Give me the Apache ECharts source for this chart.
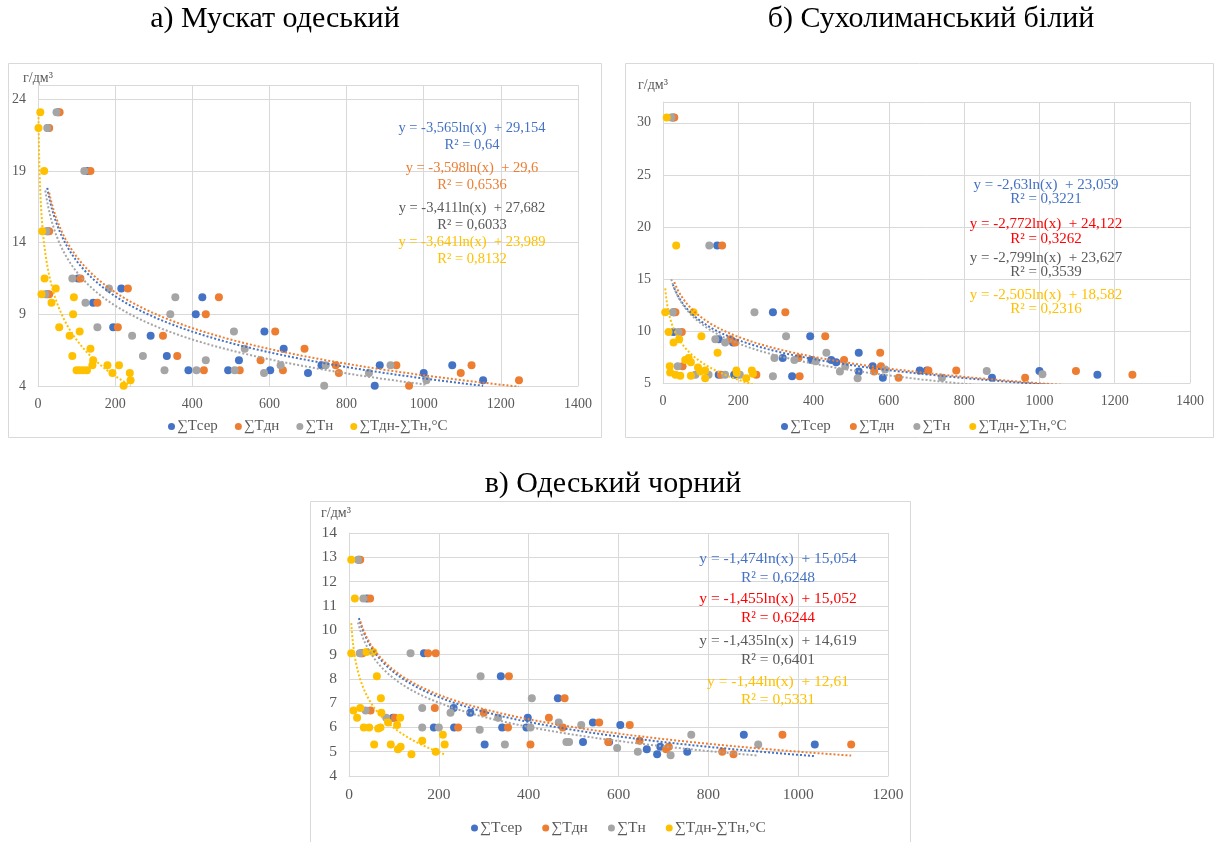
<!DOCTYPE html>
<html>
<head>
<meta charset="utf-8">
<script src="https://cdn.jsdelivr.net/npm/echarts@6/dist/echarts.min.js"></script>
<style>
html, body { margin: 0; padding: 0; background: #fff; }
#chart { width: 1218px; height: 842px; }
</style>
</head>
<body>
<div id="chart"></div>
<script>
// назви серій та кольори
const seriesNames = ['∑Tсер', '∑Tдн', '∑Tн', '∑Tдн-∑Tн,°C'];
const seriesColors = ['#4472C4', '#ED7D31', '#A5A5A5', '#FFC000'];

// а) Мускат одеський
const aTser = [[52,23.1],[26,22],[128,19],[25,14.8],[104,11.5],[216,10.8],[24,10.4],[426,10.2],[143,9.8],[409,9],[195,8.1],[587,7.8],[292,7.5],[637,6.6],[334,6.1],[521,5.8],[390,5.1],[493,5.1],[602,5.1],[700,4.9],[735,5.45],[886,5.45],[873,4.02],[1000,4.9],[1074,5.45],[1154,4.4]];
const aTdn = [[56,23.1],[29,22],[136,19],[29,14.8],[110,11.5],[233,10.8],[29,10.4],[469,10.2],[154,9.8],[435,9],[207,8.1],[615,7.8],[324,7.5],[691,6.6],[361,6.1],[577,5.8],[430,5.1],[523,5.1],[635,5.1],[780,4.9],[772,5.45],[929,5.45],[962,4.02],[1096,4.9],[1124,5.45],[1247,4.4]];
const aTn = [[48,23.1],[24,22],[120,19],[22,14.8],[89,11.5],[184,10.8],[19,10.4],[356,10.2],[123,9.8],[343,9],[154,8.1],[508,7.8],[244,7.5],[536,6.6],[272,6.1],[435,5.8],[328,5.1],[411,5.1],[510,5.1],[586,4.9],[629,5.45],[746,5.45],[742,4.02],[858,4.9],[914,5.45],[1007,4.4]];
const aDiff = [[6,23.1],[1.3,22],[16,19],[11,14.8],[17,11.5],[46,10.8],[9,10.4],[93,10.2],[35,9.8],[91,9],[55,8.1],[108,7.8],[82,7.5],[136,6.6],[89,6.1],[143,5.8],[100,5.1],[108,5.1],[117,5.1],[127,5.1],[141,5.45],[180,5.45],[210,5.45],[193,4.9],[238,4.9],[240,4.4],[222,4.02]];
const aSlope = [-3.565, -3.598, -3.411, -3.641];
const aIcpt = [29.154, 29.6, 27.682, 23.989];
const aEqText = ['y = -3,565ln(x)  + 29,154', 'R² = 0,64', 'y = -3,598ln(x)  + 29,6', 'R² = 0,6536',
  'y = -3,411ln(x)  + 27,682', 'R² = 0,6033', 'y = -3,641ln(x)  + 23,989', 'R² = 0,8132'];

// б) Сухолиманський білий
const bTser = [[26,30.5],[144,18.2],[29,11.8],[292,11.8],[28,9.9],[391,9.5],[148,9.2],[186,8.9],[520,7.9],[318,7.4],[394,7.2],[447,7.2],[460,7.0],[557,6.6],[520,6.1],[148,5.8],[189,5.8],[343,5.65],[584,5.5],[682,6.2],[701,6.2],[874,5.5],[1000,6.15],[1154,5.8]];
const bTdn = [[30,30.5],[157,18.2],[33,11.8],[325,11.8],[50,9.9],[431,9.5],[179,9.2],[192,8.9],[577,7.9],[360,7.4],[481,7.2],[52,6.6],[579,6.6],[561,6.1],[154,5.8],[248,5.8],[363,5.65],[626,5.5],[705,6.2],[779,6.2],[962,5.5],[1097,6.15],[1247,5.8]];
const bTn = [[22,30.5],[123,18.2],[26,11.8],[243,11.8],[41,9.9],[327,9.5],[139,9.2],[165,8.9],[434,7.9],[296,7.4],[349,7.2],[406,7.1],[484,6.6],[39,6.6],[470,6.1],[590,6.3],[86,5.8],[121,5.8],[165,5.8],[204,5.8],[292,5.65],[517,5.45],[741,5.5],[860,6.15],[1008,5.85]];
const bDiff = [[10,30.5],[35,18.2],[6,11.8],[81,11.8],[15,9.9],[102,9.5],[43,9.2],[28,8.9],[145,7.9],[59,7.2],[68,7.4],[74,7.0],[18,6.6],[19,6.0],[33,5.8],[46,5.7],[74,5.7],[93,6.5],[99,6.1],[112,6.2],[112,5.45],[195,6.2],[196,5.95],[221,5.45],[236,6.2],[239,5.9]];
const bSlope = [-2.63, -2.772, -2.799, -2.505];
const bIcpt = [23.059, 24.122, 23.627, 18.582];
const bEqText = ['y = -2,63ln(x)  + 23,059', 'R² = 0,3221', 'y = -2,772ln(x)  + 24,122', 'R² = 0,3262',
  'y = -2,799ln(x)  + 23,627', 'R² = 0,3539', 'y = -2,505ln(x)  + 18,582', 'R² = 0,2316'];

// в) Одеський чорний
const cTser = [[22,12.9],[40,11.3],[27,9.05],[167,9.05],[338,8.1],[465,7.2],[233,6.8],[270,6.6],[98,6.4],[398,6.4],[543,6.2],[189,6.0],[234,6.0],[341,6.0],[395,6.0],[521,5.4],[302,5.3],[604,6.1],[579,5.4],[663,5.1],[686,4.9],[693,5.2],[753,5.0],[879,5.7],[1037,5.3]];
const cTdn = [[25,12.9],[47,11.3],[30,9.05],[176,9.05],[193,9.05],[356,8.1],[480,7.2],[191,6.8],[48,6.7],[300,6.6],[102,6.4],[445,6.4],[557,6.2],[243,6.0],[354,6.0],[476,6.0],[404,5.3],[625,6.1],[577,5.4],[647,5.45],[706,5.1],[712,5.2],[831,5.0],[856,4.9],[965,5.7],[1118,5.3]];
const cTn = [[20,12.9],[32,11.3],[24,9.05],[137,9.05],[293,8.1],[407,7.2],[163,6.8],[37,6.7],[226,6.6],[83,6.4],[332,6.4],[467,6.2],[163,6.0],[200,6.0],[291,5.9],[404,6.0],[517,6.1],[484,5.4],[490,5.4],[347,5.3],[597,5.15],[643,5.0],[716,4.85],[762,5.7],[911,5.3]];
const cDiff = [[5,12.9],[13,11.3],[5,9.05],[39,9.1],[54,9.1],[62,8.1],[71,7.2],[25,6.8],[10,6.7],[72,6.6],[18,6.4],[87,6.2],[114,6.4],[33,6.0],[45,6.0],[65,5.95],[70,6.0],[107,6.1],[209,5.7],[163,5.45],[56,5.3],[93,5.3],[213,5.3],[115,5.2],[109,5.1],[193,5.0],[139,4.9]];
const cSlope = [-1.474, -1.455, -1.435, -1.44];
const cIcpt = [15.054, 15.052, 14.619, 12.61];
const cEqText = ['y = -1,474ln(x)  + 15,054', 'R² = 0,6248', 'y = -1,455ln(x)  + 15,052', 'R² = 0,6244',
  'y = -1,435ln(x)  + 14,619', 'R² = 0,6401', 'y = -1,44ln(x)  + 12,61', 'R² = 0,5331'];

const titles = ['а) Мускат одеський', 'б) Сухолиманський білий', 'в) Одеський чорний'];
const unitLabel = 'г/дм³';

const FONT = 'Liberation Serif';
const GRID_COLOR = '#d9d9d9';
const TEXT_COLOR = '#595959';

const panels = [
  { data: [aTser, aTdn, aTn, aDiff], slope: aSlope, icpt: aIcpt, eq: aEqText,
    eqColors: ['#4472C4', '#ED7D31', '#595959', '#FFC000'],
    grid: { left: 38, top: 85, width: 540, height: 301 },
    x: { max: 1400 }, y: { min: 4, max: 25, interval: 5 },
    font: 14, eqFont: 14.5, eqX: 472, eqY: [128, 145, 168, 185, 208, 225, 242, 259],
    legend: { left: 163, top: 414, gap: 17, font: 15 }, unit: [38, 78] },
  { data: [bTser, bTdn, bTn, bDiff], slope: bSlope, icpt: bIcpt, eq: bEqText,
    eqColors: ['#4472C4', '#FF0000', '#595959', '#FFC000'],
    grid: { left: 663, top: 102, width: 527, height: 281 },
    x: { max: 1400 }, y: { min: 5, max: 32, interval: 5 },
    font: 14, eqFont: 15, eqX: 1046, eqY: [185, 199, 224, 239, 258, 272, 295, 309],
    legend: { left: 776, top: 414, gap: 19, font: 15 }, unit: [653, 85] },
  { data: [cTser, cTdn, cTn, cDiff], slope: cSlope, icpt: cIcpt, eq: cEqText,
    eqColors: ['#4472C4', '#FF0000', '#595959', '#FFC000'],
    grid: { left: 349, top: 533, width: 539, height: 243 },
    x: { max: 1200 }, y: { min: 4, max: 14, interval: 1 },
    font: 15.5, eqFont: 15.5, eqX: 778, eqY: [559, 578, 599, 618, 641, 660, 682, 700],
    legend: { left: 466, top: 815, gap: 20, font: 15.5 }, unit: [336, 513] }
];

// лінія тренду y = a*ln(x) + b у межах x кожної серії
function trend(points, a, b) {
  const xs = points.map(p => p[0]);
  const lo = Math.min(...xs), hi = Math.max(...xs);
  const out = [];
  for (let i = 0; i <= 80; i++) {
    const x = lo * Math.pow(hi / lo, i / 80);
    out.push([x, a * Math.log(x) + b]);
  }
  return out;
}

const grids = [], xAxes = [], yAxes = [], series = [], legends = [], graphics = [];

// рамки панелей
[[8, 63, 593, 374], [625, 63, 588, 374], [310, 501, 600, 345]].forEach(r => {
  graphics.push({ type: 'rect', shape: { x: r[0] + 0.5, y: r[1] + 0.5, width: r[2], height: r[3] },
    style: { fill: 'none', stroke: GRID_COLOR, lineWidth: 1 }, silent: true });
});

// заголовки
[[275, 19], [931, 19], [613, 484]].forEach((p, i) => {
  graphics.push({ type: 'text', x: p[0], y: p[1],
    style: { text: titles[i], font: '30px "' + FONT + '"', fill: '#000', align: 'center', verticalAlign: 'middle' } });
});

panels.forEach((p, gi) => {
  grids.push(p.grid);
  xAxes.push({
    gridIndex: gi, type: 'value', min: 0, max: p.x.max, interval: 200,
    axisLine: { show: true, lineStyle: { color: GRID_COLOR } },
    axisTick: { show: false },
    axisLabel: { color: TEXT_COLOR, fontFamily: FONT, fontSize: p.font, margin: 11, formatter: v => String(v) },
    splitLine: { show: true, lineStyle: { color: GRID_COLOR } }
  });
  yAxes.push({
    gridIndex: gi, type: 'value', min: p.y.min, max: p.y.max, interval: p.y.interval,
    axisLine: { show: true, lineStyle: { color: GRID_COLOR } },
    axisTick: { show: false },
    axisLabel: { color: TEXT_COLOR, fontFamily: FONT, fontSize: p.font, margin: 12, showMaxLabel: gi === 2,
      formatter: v => String(v) },
    splitLine: { show: true, lineStyle: { color: GRID_COLOR } }
  });
  p.data.forEach((d, si) => {
    series.push({
      name: seriesNames[si], type: 'scatter', xAxisIndex: gi, yAxisIndex: gi,
      data: d, symbol: 'circle', symbolSize: 8,
      itemStyle: { color: seriesColors[si], opacity: 1 }
    });
  });
  p.data.forEach((d, si) => {
    series.push({
      name: 'trend' + gi + '_' + si, type: 'line', xAxisIndex: gi, yAxisIndex: gi,
      data: trend(d, p.slope[si], p.icpt[si]), showSymbol: false, symbol: 'none',
      smooth: false, silent: true, clip: true,
      lineStyle: { color: seriesColors[si], width: 2, type: [2, 2] }, z: 3
    });
  });
  legends.push({
    data: seriesNames, left: p.legend.left, top: p.legend.top, orient: 'horizontal',
    icon: 'circle', itemWidth: 7, itemHeight: 7, itemGap: p.legend.gap,
    textStyle: { color: TEXT_COLOR, fontFamily: FONT, fontSize: p.legend.font, padding: [0, 0, 0, -3] }
  });
  graphics.push({ type: 'text', x: p.unit[0], y: p.unit[1],
    style: { text: unitLabel, font: '14px "' + FONT + '"', fill: TEXT_COLOR, align: 'center', verticalAlign: 'middle' } });
  p.eq.forEach((t, k) => {
    graphics.push({ type: 'text', x: p.eqX, y: p.eqY[k],
      style: { text: t, font: p.eqFont + 'px "' + FONT + '"', fill: p.eqColors[Math.floor(k / 2)],
        align: 'center', verticalAlign: 'middle' }, z: 10 });
  });
});

const myChart = echarts.init(document.getElementById('chart'), null, { renderer: 'canvas' });
const option = {
  backgroundColor: '#fff',
  animation: false,
  textStyle: { fontFamily: FONT },
  grid: grids,
  xAxis: xAxes,
  yAxis: yAxes,
  legend: legends,
  series: series,
  graphic: graphics
};
myChart.setOption(option);
window.onresize = myChart.resize;
</script>
</body>
</html>
